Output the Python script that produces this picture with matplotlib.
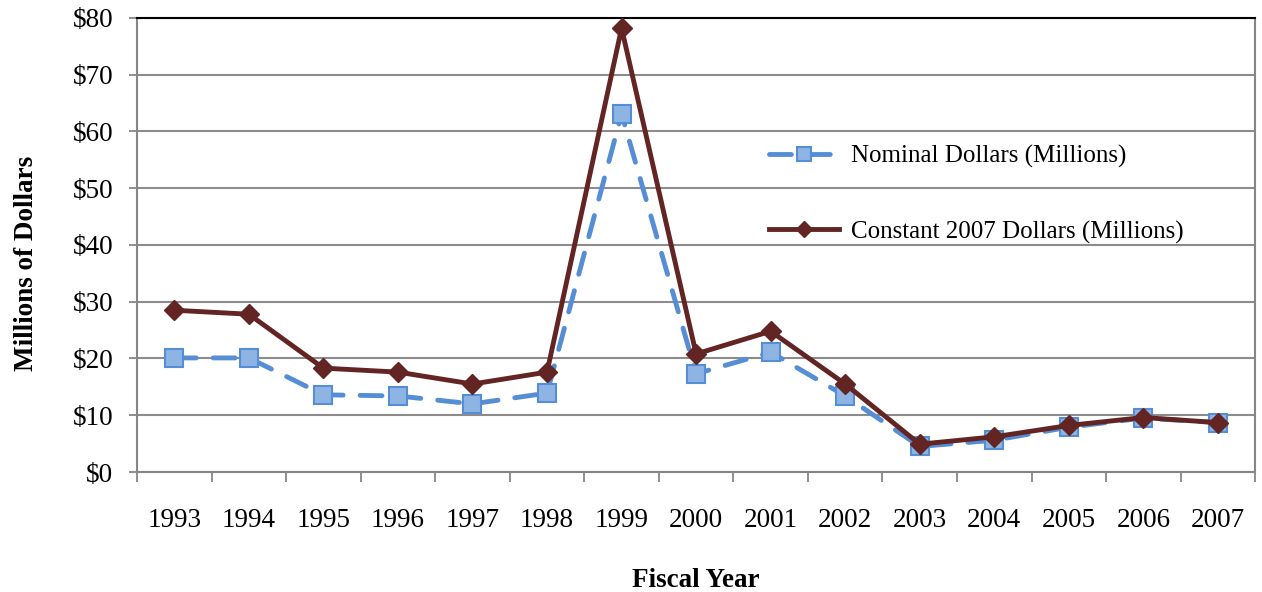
import numpy as np
import matplotlib
matplotlib.use('Agg')
import matplotlib.pyplot as plt

years = ['1993', '1994', '1995', '1996', '1997', '1998', '1999', '2000',
         '2001', '2002', '2003', '2004', '2005', '2006', '2007']
nominal = [20.1, 20.1, 13.6, 13.4, 12.0, 13.9, 63.1, 17.3, 21.1, 13.4, 4.5, 5.6, 7.9, 9.5, 8.7]
constant = [28.5, 27.8, 18.3, 17.6, 15.5, 17.6, 78.2, 20.8, 24.8, 15.5, 4.9, 6.2, 8.2, 9.6, 8.7]
y_ticks = [0, 10, 20, 30, 40, 50, 60, 70, 80]

plt.rcParams['font.family'] = ['Liberation Serif', 'DejaVu Serif']

fig = plt.figure(figsize=(12.62, 5.92), dpi=100)
ax = fig.add_axes([0.1086, 0.2027, 0.886, 0.767])

x = np.arange(len(years))
ax.plot(x, nominal, color='#558ED5', lw=3.5, dashes=(4.5, 3.5), dash_capstyle='round',
        marker='s', markersize=13, markerfacecolor='#8EB4E3', markeredgecolor='#558ED5',
        markeredgewidth=1.5, label='Nominal Dollars (Millions)', zorder=3)
ax.plot(x, constant, color='#632523', lw=3.5, marker='D', markersize=10,
        markerfacecolor='#632523', markeredgecolor='#632523',
        label='Constant 2007 Dollars (Millions)', zorder=4)

ax.set_xlim(-0.5, len(years) - 0.5)
ax.set_ylim(0, 80)
ax.set_yticks(y_ticks)
ax.set_yticklabels([f'${v}' for v in y_ticks], fontsize=19.5)
ax.set_xticks(x)
ax.set_xticklabels(years, fontsize=19.5)
ax.set_xticks(np.arange(-0.5, len(years)), minor=True)
ax.tick_params(axis='x', which='major', length=0, pad=26)
ax.tick_params(axis='x', which='minor', length=7, width=1.3, color='#868686')
ax.tick_params(axis='y', length=6, width=1.3, color='#868686', pad=11)

ax.yaxis.grid(True, color='#8c8c8c', lw=1.5)
ax.set_axisbelow(True)
for side in ['left', 'bottom']:
    ax.spines[side].set_color('#868686')
    ax.spines[side].set_linewidth(1.5)
ax.spines['top'].set_color('black')
ax.spines['top'].set_linewidth(1.5)
ax.spines['right'].set_color('#868686')
ax.spines['right'].set_linewidth(1.5)

ax.set_xlabel('Fiscal Year', fontsize=19.5, fontweight='bold', labelpad=25)
ax.set_ylabel('Millions of Dollars', fontsize=19.5, fontweight='bold')
ax.yaxis.set_label_coords(-0.088, 0.46)

leg = ax.legend(loc='upper left', bbox_to_anchor=(0.5455, 0.77), frameon=False,
                fontsize=18, labelspacing=2.1, handlelength=2.8, handletextpad=0.45,
                markerscale=0.8)

fig.savefig('out.png', dpi=100)
